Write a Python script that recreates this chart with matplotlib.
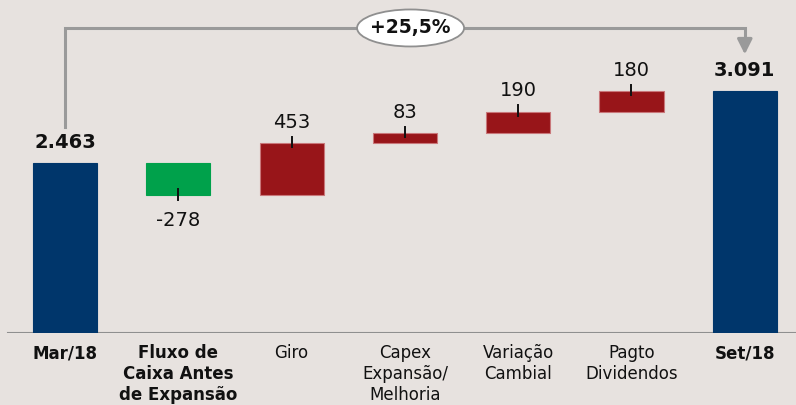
import matplotlib.pyplot as plt
from matplotlib.patches import Ellipse

categories = ['Mar/18', 'Fluxo de\nCaixa Antes\nde Expansão', 'Giro',
              'Capex\nExpansão/\nMelhoria', 'Variação\nCambial', 'Pagto\nDividendos', 'Set/18']
values = [2463, -278, 453, 83, 190, 180, 3091]
value_labels = ['2.463', '-278', '453', '83', '190', '180', '3.091']
bold_cats = [True, True, False, False, False, False, True]
growth_label = '+25,5%'

BLUE = '#00366b'
GREEN = '#00a14b'
RED = '#981519'
BG = '#e7e2df'

plt.rcParams['font.family'] = ['DejaVu Sans']

fig = plt.figure(figsize=(7.96, 4.05), dpi=100, facecolor=BG)
ax = fig.add_axes([0, 1 - 333 / 405, 1, 333 / 405])
ax.set_facecolor(BG)
ax.set_xlim(-0.574, 6.452)
ax.set_ylim(980, 3884)
for s in ax.spines.values():
    s.set_visible(False)
ax.set_yticks([])

width = 0.565
n = len(values)
running = 0
for i, v in enumerate(values):
    if i == 0 or i == n - 1:
        bottom, height, color = 0, v, BLUE
        running = v
        top = v
    else:
        if v < 0:
            bottom, height, color = running + v, -v, GREEN
        else:
            bottom, height, color = running, v, RED
        running += v
        top = bottom + height
    ax.bar(i, height, bottom=bottom, width=width, color=color,
           edgecolor='#c9777a' if color == RED else color, linewidth=0.8, zorder=3)

    bold = (i == 0 or i == n - 1)
    if v < 0 and 0 < i < n - 1:
        # label below the bar, small tick hanging from the bar
        ax.plot([i, i], [bottom + 50, bottom - 45], color='#111111', lw=1.4, zorder=4)
        ax.annotate(value_labels[i], xy=(i, bottom), xytext=(0, -12),
                    textcoords='offset points', ha='center', va='top',
                    fontsize=14, color='#111111', zorder=5)
    elif bold:
        ax.annotate(value_labels[i], xy=(i, top), xytext=(0, 8),
                    textcoords='offset points', ha='center', va='bottom',
                    fontsize=14, fontweight='bold', color='#111111', zorder=5)
    else:
        ax.plot([i, i], [top - 35, top + 55], color='#111111', lw=1.4, zorder=4)
        ax.annotate(value_labels[i], xy=(i, top), xytext=(0, 8),
                    textcoords='offset points', ha='center', va='bottom',
                    fontsize=14, color='#111111', zorder=5)

# baseline
ax.axhline(980 + 1, xmin=8 / 796, xmax=1, color='#8f8f8f', lw=1.5, zorder=2)

# category labels
ax.set_xticks(range(n))
ax.set_xticklabels(categories, fontsize=12, color='#111111', linespacing=1.2)
ax.tick_params(axis='x', length=0, pad=8)
for lab, b in zip(ax.get_xticklabels(), bold_cats):
    if b:
        lab.set_fontweight('bold')

# growth bracket
bracket_y = 3640
left_start = values[0] + 315
gray = '#9a9a9a'
ax.plot([0, 0, n - 1, n - 1], [left_start, bracket_y, bracket_y, bracket_y - 120],
        color=gray, lw=2.2, zorder=2, solid_joinstyle='miter')
ax.annotate('', xy=(n - 1, values[-1] + 295), xytext=(n - 1, bracket_y - 110),
            arrowprops=dict(arrowstyle='-|>,head_width=0.45,head_length=0.9',
                            color=gray, lw=2.2), zorder=2)
mid = (n - 1) / 2
ell = Ellipse((mid + 0.05, bracket_y), width=107 / 113.3, height=37 * 8.72,
              facecolor='white', edgecolor='#8f8f8f', lw=1.3, zorder=5)
ax.add_patch(ell)
ax.text(mid + 0.05, bracket_y, growth_label, ha='center', va='center',
        fontsize=13.5, fontweight='bold', color='#111111', zorder=6)

fig.savefig('out.png', dpi=100, facecolor=BG)
